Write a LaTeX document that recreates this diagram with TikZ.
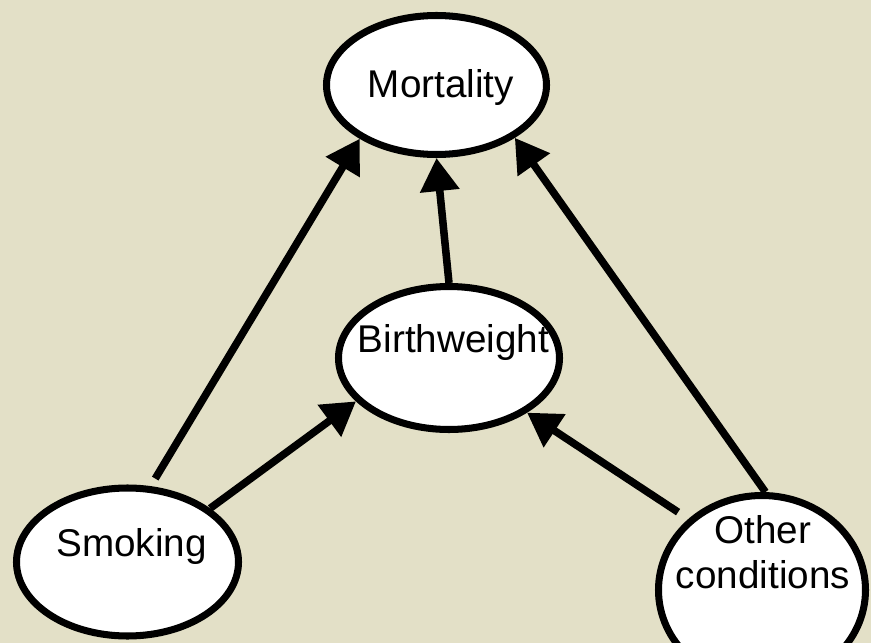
\documentclass[tikz,border=0pt]{standalone}
\usepackage{fontspec}
\setmainfont{Liberation Sans}
\usetikzlibrary{shapes.geometric,arrows.meta}
\definecolor{paper}{RGB}{227,224,199}

\begin{document}
\begin{tikzpicture}[scale=0.2,
  blob/.style={ellipse,draw=black,line width=4pt,fill=white,inner sep=0pt},
  word/.style={font=\fontsize{22}{25.6}\selectfont,anchor=base,align=center,inner sep=0pt},
  link/.style={line width=4.3pt,-{Triangle[length=18.8pt,width=21.6pt]}}]
\useasboundingbox (0,0) rectangle (87.1,-64.3);
\clip (0,0) rectangle (87.1,-64.3);
\fill [paper] (0,0) rectangle (87.1,-64.3);
% the four variables
\node [blob,minimum width=4.4cm,minimum height=2.78cm] (mort) at (43.65,-8.5) {};
\node [blob,minimum width=4.42cm,minimum height=2.86cm] (bw) at (44.9,-35.8) {};
\node [blob,minimum width=4.44cm,minimum height=2.96cm] (smk) at (12.75,-56.2) {};
\node [blob,minimum width=4.14cm,minimum height=3.78cm] (oth) at (76.2,-59) {};
\node [word] (mortlbl) at (44.1,-9.7) {Mortality};
\node [word] (bwlbl) at (45.35,-35.2) {Birthweight};
\node [word] (smklbl) at (13.17,-55.6) {Smoking};
\node [word] (othlbl) at (76.3,-58.8) {Other\\conditions};
% causal arrows
\draw [link,shorten <=5pt] (smk.73) -- (mort.215);
\draw [link] (bw.north) -- (mort.south);
\draw [link] (oth.88) -- (mort.326);
\draw [link] (smk.33) -- (bw.205);
\draw [link,shorten <=7pt] (oth.136) -- (bw.325);
\end{tikzpicture}
\end{document}
